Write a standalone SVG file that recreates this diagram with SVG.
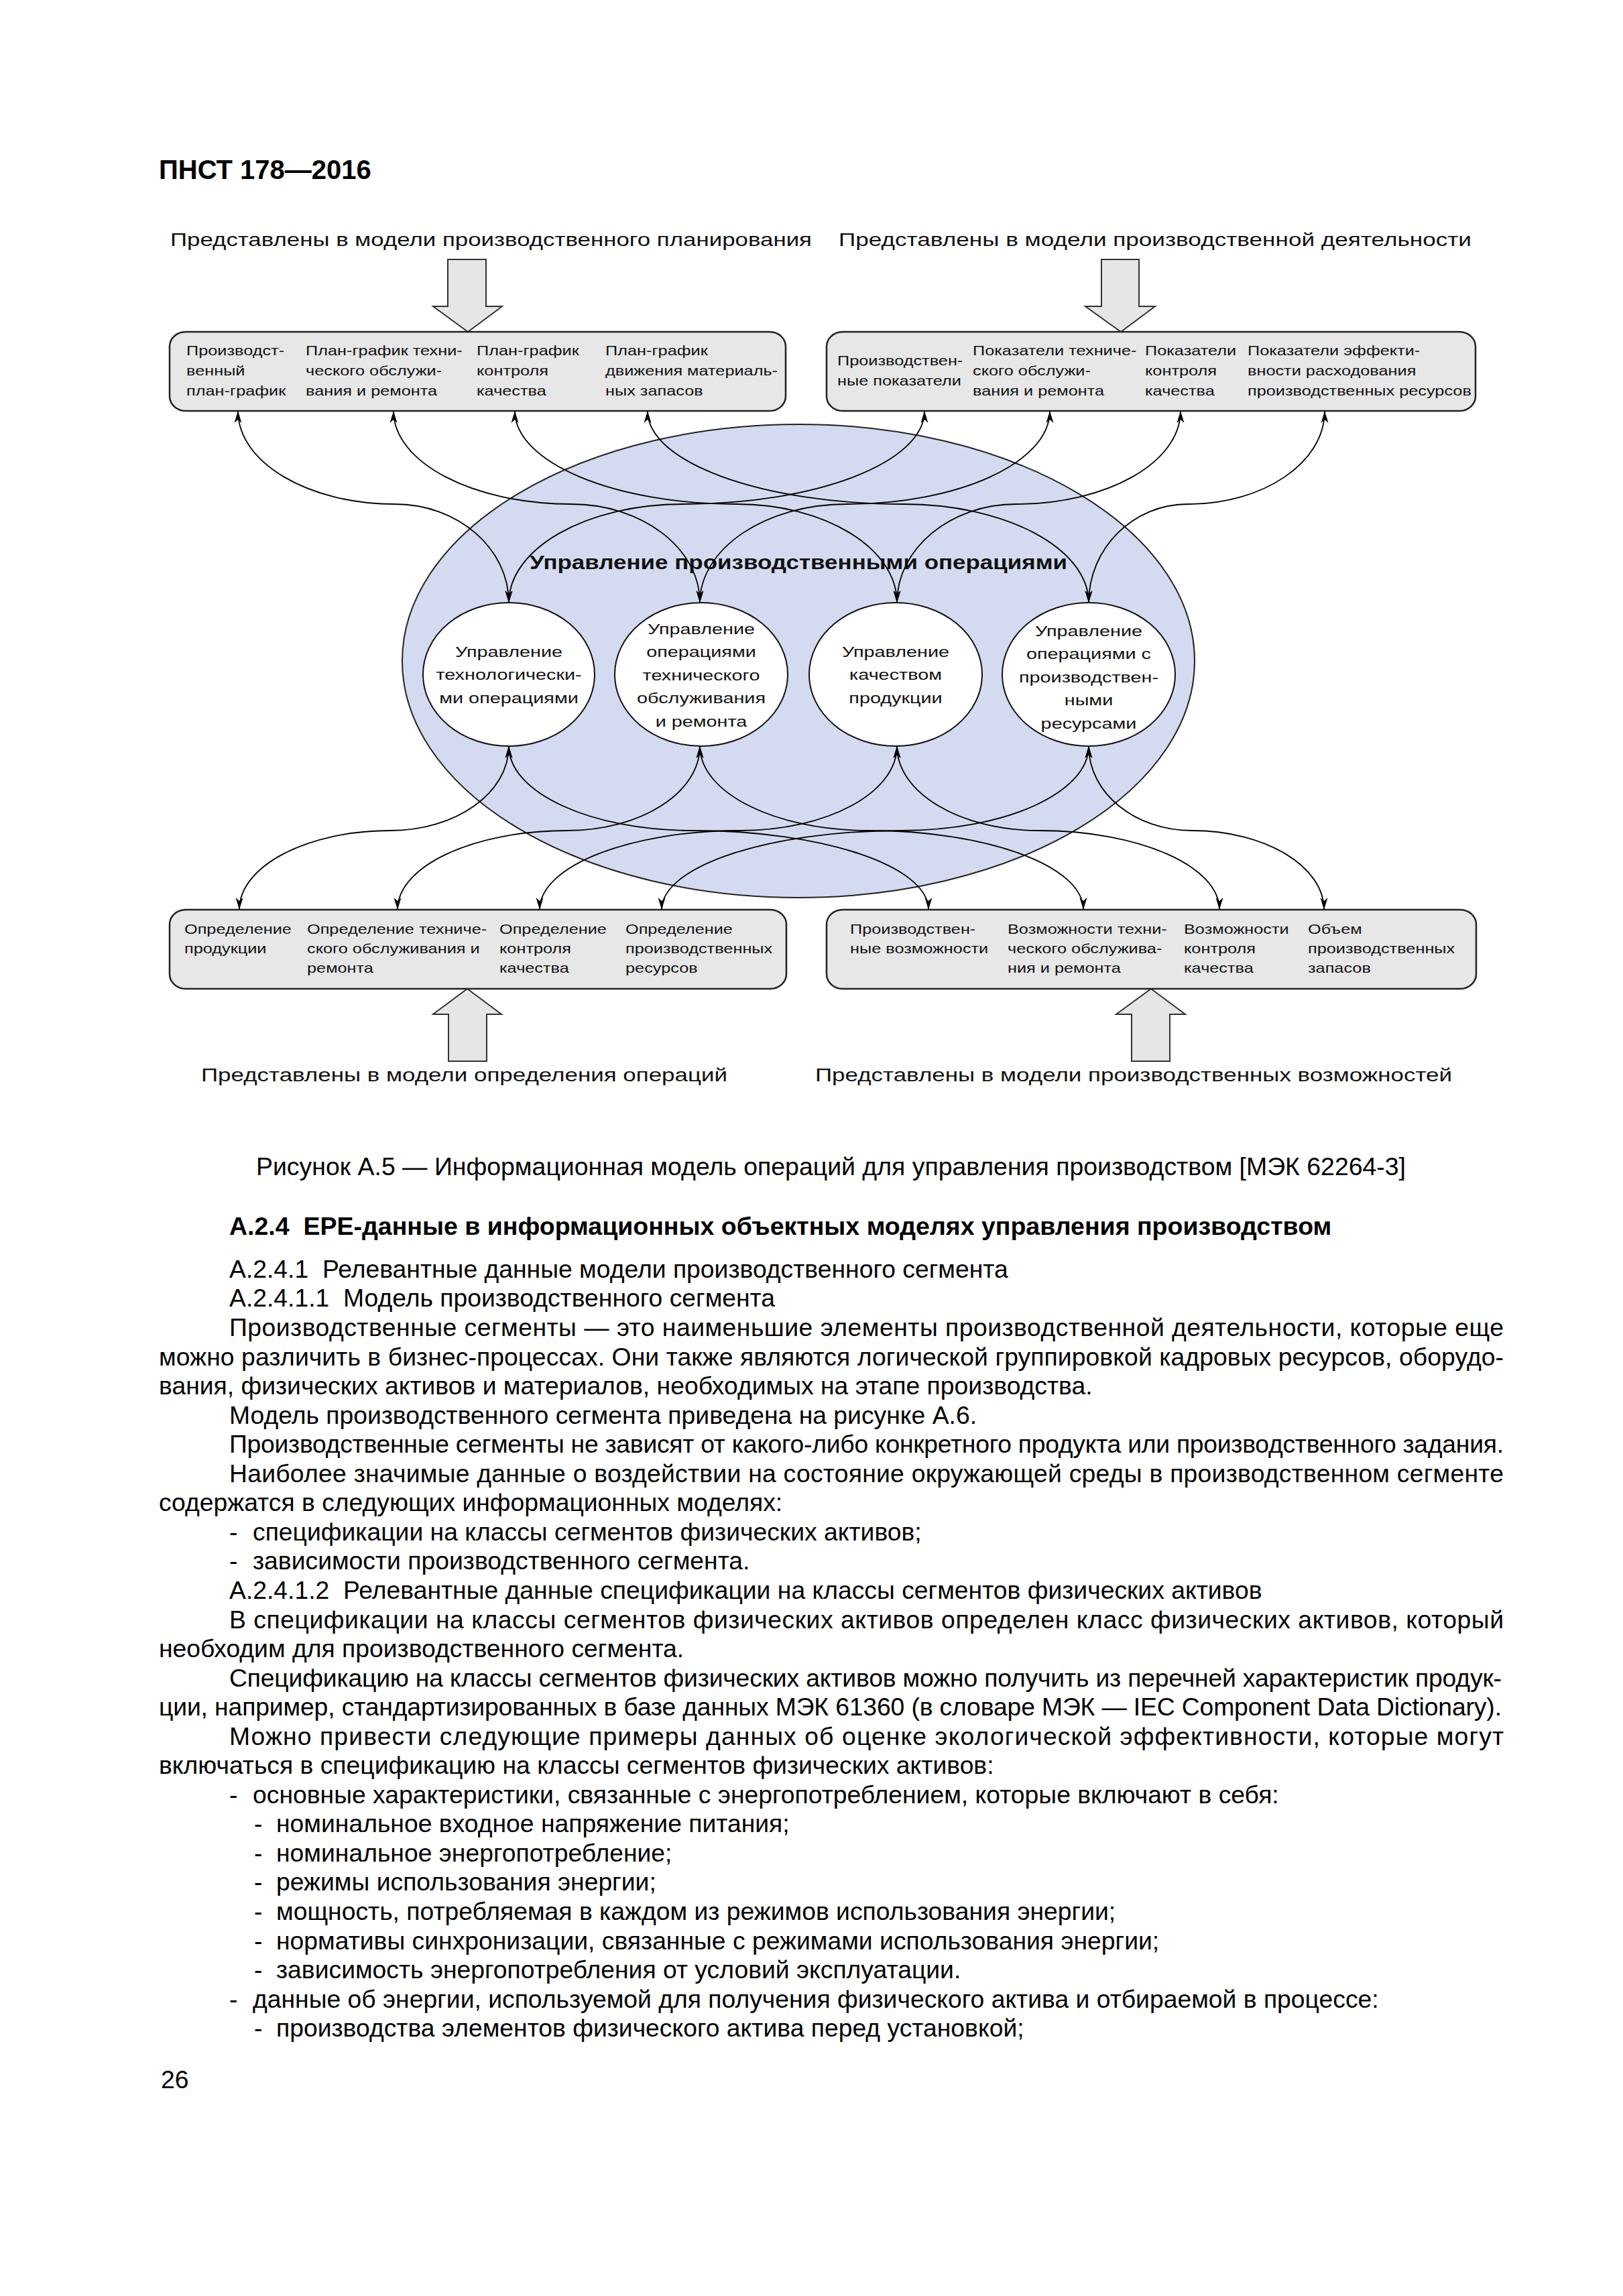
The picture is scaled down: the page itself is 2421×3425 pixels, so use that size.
<svg xmlns="http://www.w3.org/2000/svg" width="2421" height="3425" viewBox="0 0 2421 3425">
<style>
.box{fill:#e7e7e8;stroke:#222;stroke-width:2.5}
.blk{fill:#e6e6e6;stroke:#333;stroke-width:2}
.big{fill:#d4daef;stroke:#222;stroke-width:2}
.sm{fill:#fff;stroke:#111;stroke-width:2}
.bt{font-family:"Liberation Sans",Arial,sans-serif;font-size:20px;fill:#111}
.et{font-family:"Liberation Sans",Arial,sans-serif;font-size:22.5px;fill:#111;text-anchor:middle}
.lab{font-family:"Liberation Sans",Arial,sans-serif;font-size:28px;fill:#111}
.ttl{font-family:"Liberation Sans",Arial,sans-serif;font-size:29px;font-weight:bold;fill:#111}
.body{font-family:"Liberation Sans",Arial,sans-serif;font-size:37.3px;fill:#000}
.bold{font-family:"Liberation Sans",Arial,sans-serif;font-size:37.5px;font-weight:bold;fill:#000}
.con path{fill:none;stroke:#000;stroke-width:1.8;marker-start:url(#ah);marker-end:url(#ah)}
</style>
<defs>
<marker id="ah" markerUnits="userSpaceOnUse" markerWidth="22" markerHeight="14" viewBox="-19 -7 20 14" refX="0" refY="0" orient="auto-start-reverse">
<path d="M0,0 L-18,-5.5 L-13,0 L-18,5.5 Z" fill="#000"/>
</marker>
</defs>
<rect x="0" y="0" width="2421" height="3425" fill="#fff"/>

<text class="bold" x="237" y="267" style="font-size:40px">ПНСТ 178—2016</text>

<g id="label-planning"><text class="lab" x="254" y="367" textLength="957" lengthAdjust="spacingAndGlyphs">Представлены в модели производственного планирования</text></g>
<g id="label-activity"><text class="lab" x="1251" y="367" textLength="944" lengthAdjust="spacingAndGlyphs">Представлены в модели производственной деятельности</text></g>
<g id="label-definition"><text class="lab" x="300" y="1613" textLength="785" lengthAdjust="spacingAndGlyphs">Представлены в модели определения операций</text></g>
<g id="label-capability"><text class="lab" x="1216" y="1613" textLength="950" lengthAdjust="spacingAndGlyphs">Представлены в модели производственных возможностей</text></g>

<g id="arrow-planning"><polygon class="blk" points="668,387 725,387 725,457 749,457 698,495 646,457 668,457"/></g>
<g id="arrow-activity"><polygon class="blk" points="1643,387 1699,387 1699,457 1723,457 1672,495 1619,457 1643,457"/></g>
<g id="arrow-definition"><polygon class="blk" points="697,1475 748,1513 726,1513 726,1583 669,1583 669,1513 646,1513"/></g>
<g id="arrow-capability"><polygon class="blk" points="1717,1475 1768,1513 1745,1513 1745,1583 1688,1583 1688,1513 1665,1513"/></g>

<g id="box-planning">
<rect class="box" x="253" y="495" width="919" height="118" rx="24" ry="22"/>
<text class="bt" transform="matrix(1.265 0 0 1 278 530)"><tspan x="0" y="0">Производст-</tspan><tspan x="0" y="30">венный</tspan><tspan x="0" y="60">план-график</tspan></text>
<text class="bt" transform="matrix(1.265 0 0 1 456 530)"><tspan x="0" y="0">План-график техни-</tspan><tspan x="0" y="30">ческого обслужи-</tspan><tspan x="0" y="60">вания и ремонта</tspan></text>
<text class="bt" transform="matrix(1.265 0 0 1 711 530)"><tspan x="0" y="0">План-график</tspan><tspan x="0" y="30">контроля</tspan><tspan x="0" y="60">качества</tspan></text>
<text class="bt" transform="matrix(1.265 0 0 1 903 530)"><tspan x="0" y="0">План-график</tspan><tspan x="0" y="30">движения материаль-</tspan><tspan x="0" y="60">ных запасов</tspan></text>
</g>

<g id="box-activity">
<rect class="box" x="1233" y="495" width="968" height="118" rx="24" ry="22"/>
<text class="bt" transform="matrix(1.265 0 0 1 1249 545)"><tspan x="0" y="0">Производствен-</tspan><tspan x="0" y="30">ные показатели</tspan></text>
<text class="bt" transform="matrix(1.265 0 0 1 1451 530)"><tspan x="0" y="0">Показатели техниче-</tspan><tspan x="0" y="30">ского обслужи-</tspan><tspan x="0" y="60">вания и ремонта</tspan></text>
<text class="bt" transform="matrix(1.265 0 0 1 1708 530)"><tspan x="0" y="0">Показатели</tspan><tspan x="0" y="30">контроля</tspan><tspan x="0" y="60">качества</tspan></text>
<text class="bt" transform="matrix(1.265 0 0 1 1861 530)"><tspan x="0" y="0">Показатели эффекти-</tspan><tspan x="0" y="30">вности расходования</tspan><tspan x="0" y="60">производственных ресурсов</tspan></text>
</g>

<g id="box-definition">
<rect class="box" x="253" y="1357" width="920" height="118" rx="24" ry="22"/>
<text class="bt" transform="matrix(1.265 0 0 1 275 1393)"><tspan x="0" y="0">Определение</tspan><tspan x="0" y="29">продукции</tspan></text>
<text class="bt" transform="matrix(1.265 0 0 1 458 1393)"><tspan x="0" y="0">Определение техниче-</tspan><tspan x="0" y="29">ского обслуживания и</tspan><tspan x="0" y="58">ремонта</tspan></text>
<text class="bt" transform="matrix(1.265 0 0 1 745 1393)"><tspan x="0" y="0">Определение</tspan><tspan x="0" y="29">контроля</tspan><tspan x="0" y="58">качества</tspan></text>
<text class="bt" transform="matrix(1.265 0 0 1 933 1393)"><tspan x="0" y="0">Определение</tspan><tspan x="0" y="29">производственных</tspan><tspan x="0" y="58">ресурсов</tspan></text>
</g>

<g id="box-capability">
<rect class="box" x="1233" y="1357" width="969" height="118" rx="24" ry="22"/>
<text class="bt" transform="matrix(1.265 0 0 1 1268 1393)"><tspan x="0" y="0">Производствен-</tspan><tspan x="0" y="29">ные возможности</tspan></text>
<text class="bt" transform="matrix(1.265 0 0 1 1503 1393)"><tspan x="0" y="0">Возможности техни-</tspan><tspan x="0" y="29">ческого обслужива-</tspan><tspan x="0" y="58">ния и ремонта</tspan></text>
<text class="bt" transform="matrix(1.265 0 0 1 1766 1393)"><tspan x="0" y="0">Возможности</tspan><tspan x="0" y="29">контроля</tspan><tspan x="0" y="58">качества</tspan></text>
<text class="bt" transform="matrix(1.265 0 0 1 1951 1393)"><tspan x="0" y="0">Объем</tspan><tspan x="0" y="29">производственных</tspan><tspan x="0" y="58">запасов</tspan></text>
</g>

<g id="ops-management">
<ellipse class="big" cx="1191" cy="986" rx="591" ry="353"/>
<text class="ttl" x="790" y="849" textLength="802" lengthAdjust="spacingAndGlyphs">Управление производственными операциями</text>
</g>

<g id="connectors" class="con">
<path d="M355,613 C355,690 460,752 589,752 C683,752 759,818 759,899"/>
<path d="M587,613 C587,690 706,752 852,752 C958,752 1044,818 1044,899"/>
<path d="M768,613 C768,690 916,752 1099,752 C1231,752 1338,818 1338,899"/>
<path d="M966,613 C966,690 1137,752 1348,752 C1500,752 1624,818 1624,899"/>
<path d="M1379,613 C1379,690 1218,752 1019,752 C875,752 759,818 759,899"/>
<path d="M1566,613 C1566,690 1430,752 1263,752 C1142,752 1044,818 1044,899"/>
<path d="M1761,613 C1761,690 1651,752 1516,752 C1418,752 1338,818 1338,899"/>
<path d="M1976,613 C1976,690 1885,752 1772,752 C1690,752 1624,818 1624,899"/>
<path d="M357,1357 C357,1292 458,1239 582,1239 C680,1239 759,1183 759,1113"/>
<path d="M593,1357 C593,1292 706,1239 846,1239 C955,1239 1044,1183 1044,1113"/>
<path d="M805,1357 C805,1292 939,1239 1104,1239 C1233,1239 1338,1183 1338,1113"/>
<path d="M987,1357 C987,1292 1147,1239 1344,1239 C1499,1239 1624,1183 1624,1113"/>
<path d="M1385,1357 C1385,1292 1228,1239 1034,1239 C882,1239 759,1183 759,1113"/>
<path d="M1616,1357 C1616,1292 1473,1239 1296,1239 C1157,1239 1044,1183 1044,1113"/>
<path d="M1819,1357 C1819,1292 1699,1239 1550,1239 C1433,1239 1338,1183 1338,1113"/>
<path d="M1975,1357 C1975,1292 1887,1239 1778,1239 C1693,1239 1624,1183 1624,1113"/>
</g>

<g id="node-process-ops">
<ellipse class="sm" cx="759" cy="1006" rx="128" ry="107"/>
<text class="et" transform="matrix(1.28 0 0 1 759 980)"><tspan x="0" y="0">Управление</tspan><tspan x="0" y="34.5">технологически-</tspan><tspan x="0" y="69">ми операциями</tspan></text>
</g>
<g id="node-maintenance-ops">
<ellipse class="sm" cx="1046" cy="1006" rx="129" ry="107"/>
<text class="et" transform="matrix(1.28 0 0 1 1046 946)"><tspan x="0" y="0">Управление</tspan><tspan x="0" y="34.5">операциями</tspan><tspan x="0" y="69">технического</tspan><tspan x="0" y="103.5">обслуживания</tspan><tspan x="0" y="138">и ремонта</tspan></text>
</g>
<g id="node-quality-ops">
<ellipse class="sm" cx="1336" cy="1006" rx="129" ry="107"/>
<text class="et" transform="matrix(1.28 0 0 1 1336 980)"><tspan x="0" y="0">Управление</tspan><tspan x="0" y="34.5">качеством</tspan><tspan x="0" y="69">продукции</tspan></text>
</g>
<g id="node-resource-ops">
<ellipse class="sm" cx="1624" cy="1006" rx="129" ry="107"/>
<text class="et" transform="matrix(1.28 0 0 1 1624 949)"><tspan x="0" y="0">Управление</tspan><tspan x="0" y="34.5">операциями с</tspan><tspan x="0" y="69">производствен-</tspan><tspan x="0" y="103.5">ными</tspan><tspan x="0" y="138">ресурсами</tspan></text>
</g>

<g id="page-text">
<text class="body" x="382" y="1753" textLength="1715" lengthAdjust="spacingAndGlyphs">Рисунок А.5 — Информационная модель операций для управления производством [МЭК 62264-3]</text>
<text class="bold" x="342" y="1842" xml:space="preserve">А.2.4  ЕРЕ-данные в информационных объектных моделях управления производством</text>
<text class="body" x="342" y="1906" xml:space="preserve">А.2.4.1  Релевантные данные модели производственного сегмента</text>
<text class="body" x="342" y="1949" xml:space="preserve">А.2.4.1.1  Модель производственного сегмента</text>
<text class="body" x="342" y="1993" textLength="1901" lengthAdjust="spacing">Производственные сегменты — это наименьшие элементы производственной деятельности, которые еще</text>
<text class="body" x="237" y="2037" textLength="2006" lengthAdjust="spacing">можно различить в бизнес-процессах. Они также являются логической группировкой кадровых ресурсов, оборудо-</text>
<text class="body" x="237" y="2080">вания, физических активов и материалов, необходимых на этапе производства.</text>
<text class="body" x="342" y="2124">Модель производственного сегмента приведена на рисунке А.6.</text>
<text class="body" x="342" y="2167" textLength="1901" lengthAdjust="spacing">Производственные сегменты не зависят от какого-либо конкретного продукта или производственного задания.</text>
<text class="body" x="342" y="2211" textLength="1901" lengthAdjust="spacing">Наиболее значимые данные о воздействии на состояние окружающей среды в производственном сегменте</text>
<text class="body" x="237" y="2254">содержатся в следующих информационных моделях:</text>
<text class="body" y="2298"><tspan x="342">-</tspan><tspan x="377">спецификации на классы сегментов физических активов;</tspan></text>
<text class="body" y="2341"><tspan x="342">-</tspan><tspan x="377">зависимости производственного сегмента.</tspan></text>
<text class="body" x="342" y="2385" xml:space="preserve">А.2.4.1.2  Релевантные данные спецификации на классы сегментов физических активов</text>
<text class="body" x="342" y="2429" textLength="1901" lengthAdjust="spacing">В спецификации на классы сегментов физических активов определен класс физических активов, который</text>
<text class="body" x="237" y="2472">необходим для производственного сегмента.</text>
<text class="body" x="342" y="2516" textLength="1898" lengthAdjust="spacing">Спецификацию на классы сегментов физических активов можно получить из перечней характеристик продук-</text>
<text class="body" x="237" y="2559" textLength="2003" lengthAdjust="spacing">ции, например, стандартизированных в базе данных МЭК 61360 (в словаре МЭК — IEC Component Data Dictionary).</text>
<text class="body" x="342" y="2603" textLength="1901" lengthAdjust="spacing">Можно привести следующие примеры данных об оценке экологической эффективности, которые могут</text>
<text class="body" x="237" y="2646">включаться в спецификацию на классы сегментов физических активов:</text>
<text class="body" y="2690"><tspan x="342">-</tspan><tspan x="377">основные характеристики, связанные с энергопотреблением, которые включают в себя:</tspan></text>
<text class="body" y="2733"><tspan x="379">-</tspan><tspan x="412">номинальное входное напряжение питания;</tspan></text>
<text class="body" y="2777"><tspan x="379">-</tspan><tspan x="412">номинальное энергопотребление;</tspan></text>
<text class="body" y="2820"><tspan x="379">-</tspan><tspan x="412">режимы использования энергии;</tspan></text>
<text class="body" y="2864"><tspan x="379">-</tspan><tspan x="412">мощность, потребляемая в каждом из режимов использования энергии;</tspan></text>
<text class="body" y="2908"><tspan x="379">-</tspan><tspan x="412">нормативы синхронизации, связанные с режимами использования энергии;</tspan></text>
<text class="body" y="2951"><tspan x="379">-</tspan><tspan x="412">зависимость энергопотребления от условий эксплуатации.</tspan></text>
<text class="body" y="2995"><tspan x="342">-</tspan><tspan x="377">данные об энергии, используемой для получения физического актива и отбираемой в процессе:</tspan></text>
<text class="body" y="3038"><tspan x="379">-</tspan><tspan x="412">производства элементов физического актива перед установкой;</tspan></text>
<text class="body" x="240" y="3115">26</text>
</g>
</svg>
